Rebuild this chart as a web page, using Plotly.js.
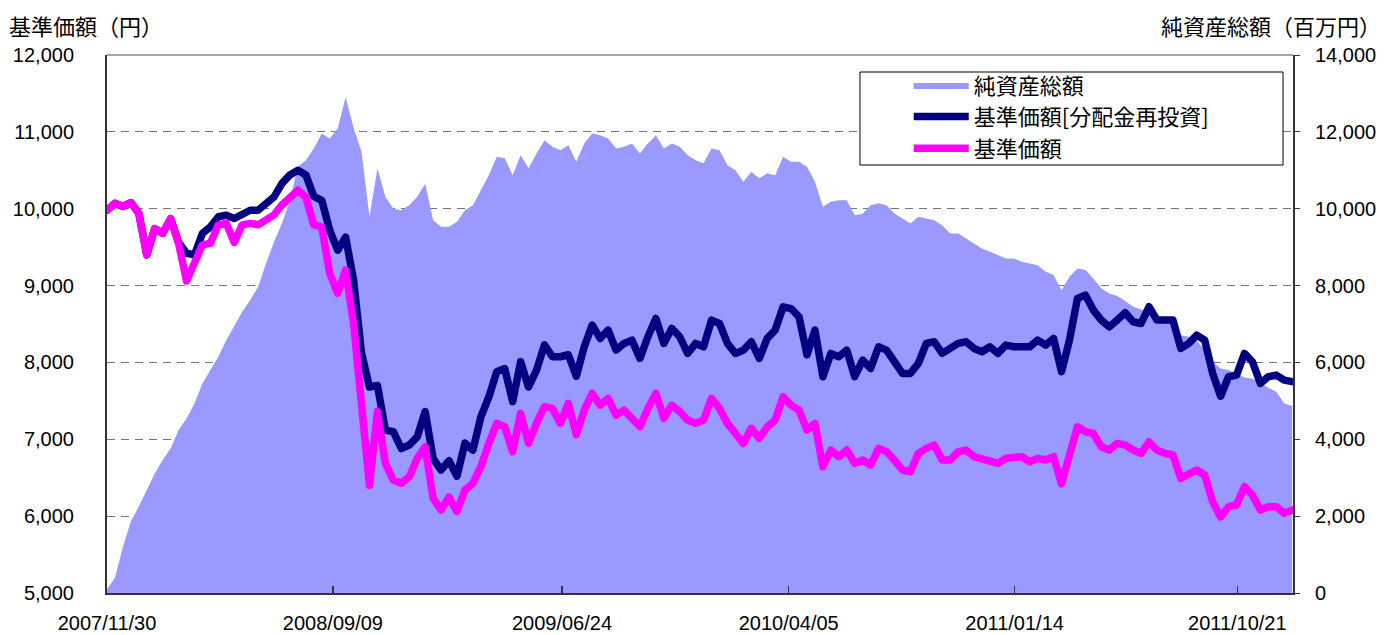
<!DOCTYPE html>
<html>
<head>
<meta charset="utf-8">
<script src="https://cdn.plot.ly/plotly-3.0.1.min.js"></script>
<style>
html,body{margin:0;padding:0;background:#fff;}
#chart{width:1395px;height:635px;}
#chart .scatterlayer .js-line{stroke-linejoin:round !important;stroke-linecap:round !important;}
</style>
</head>
<body>
<div id="chart"></div>
<script>
// Dates (sampled every 10 days)
const dates = [
'2007-11-30','2007-12-10','2007-12-20','2007-12-30','2008-01-09','2008-01-19','2008-01-29','2008-02-08','2008-02-18','2008-02-28',
'2008-03-09','2008-03-19','2008-03-29','2008-04-08','2008-04-18','2008-04-28','2008-05-08','2008-05-18','2008-05-28','2008-06-07',
'2008-06-17','2008-06-27','2008-07-07','2008-07-17','2008-07-27','2008-08-06','2008-08-16','2008-08-26','2008-09-05','2008-09-15',
'2008-09-25','2008-10-05','2008-10-15','2008-10-25','2008-11-04','2008-11-14','2008-11-24','2008-12-04','2008-12-14','2008-12-24',
'2009-01-03','2009-01-13','2009-01-23','2009-02-02','2009-02-12','2009-02-22','2009-03-04','2009-03-14','2009-03-24','2009-04-03',
'2009-04-13','2009-04-23','2009-05-03','2009-05-13','2009-05-23','2009-06-02','2009-06-12','2009-06-22','2009-07-02','2009-07-12',
'2009-07-22','2009-08-01','2009-08-11','2009-08-21','2009-08-31','2009-09-10','2009-09-20','2009-09-30','2009-10-10','2009-10-20',
'2009-10-30','2009-11-09','2009-11-19','2009-11-29','2009-12-09','2009-12-19','2009-12-29','2010-01-08','2010-01-18','2010-01-28',
'2010-02-07','2010-02-17','2010-02-27','2010-03-09','2010-03-19','2010-03-29','2010-04-08','2010-04-18','2010-04-28','2010-05-08',
'2010-05-18','2010-05-28','2010-06-07','2010-06-17','2010-06-27','2010-07-07','2010-07-17','2010-07-27','2010-08-06','2010-08-16',
'2010-08-26','2010-09-05','2010-09-15','2010-09-25','2010-10-05','2010-10-15','2010-10-25','2010-11-04','2010-11-14','2010-11-24',
'2010-12-04','2010-12-14','2010-12-24','2011-01-03','2011-01-13','2011-01-23','2011-02-02','2011-02-12','2011-02-22','2011-03-04',
'2011-03-14','2011-03-24','2011-04-03','2011-04-13','2011-04-23','2011-05-03','2011-05-13','2011-05-23','2011-06-02','2011-06-12',
'2011-06-22','2011-07-02','2011-07-12','2011-07-22','2011-08-01','2011-08-11','2011-08-21','2011-08-31','2011-09-10','2011-09-20',
'2011-09-30','2011-10-10','2011-10-20','2011-10-30','2011-11-09','2011-11-19','2011-11-29','2011-12-09','2011-12-19','2011-12-29'
];

// 純資産総額 (百万円)
const netAssets = [
100,400,1200,1860,2250,2680,3110,3460,3760,4240,
4540,4930,5450,5800,6150,6580,6970,7320,7620,7970,
8580,9140,9620,10220,11090,11260,11570,11960,11830,12090,
12900,12100,11480,9790,11050,10310,10000,9960,10090,10310,
10650,9700,9530,9530,9660,9960,10090,10480,10870,11350,
11310,10870,11390,11050,11440,11780,11610,11520,11650,11220,
11700,11960,11910,11830,11570,11610,11700,11440,11700,11910,
11570,11700,11610,11390,11260,11180,11570,11520,11130,11000,
10700,10960,10790,10920,10870,11350,11220,11220,11090,10700,
10050,10180,10220,10220,9830,9870,10090,10140,10090,9876,
9746,9616,9790,9746,9700,9570,9356,9356,9226,9096,
8966,8880,8790,8706,8706,8620,8575,8532,8358,8272,
7880,8228,8445,8402,8185,7925,7795,7726,7596,7450,
7380,7275,7188,7100,6970,6710,6668,6580,6320,6020,
5845,5800,5715,5610,5575,5470,5340,5237,4930,4865
];

// 基準価額[分配金再投資] (円)
const navReinvested = [
9980,10070,10030,10080,9940,9400,9740,9680,9870,9560,
9420,9400,9680,9765,9895,9915,9873,9915,9980,9980,
10070,10155,10330,10440,10500,10440,10160,10110,9720,9460,
9630,9070,8120,7680,7700,7120,7100,6880,6925,7030,
7360,6750,6600,6720,6520,6950,6860,7290,7550,7880,
7920,7490,8010,7680,7900,8230,8074,8074,8100,7820,
8204,8486,8312,8420,8160,8247,8290,8052,8334,8573,
8247,8442,8334,8117,8247,8204,8551,8507,8247,8117,
8160,8269,8052,8312,8421,8724,8700,8594,8100,8420,
7814,8117,8074,8160,7814,8030,7922,8204,8160,7987,
7857,7857,7987,8247,8269,8117,8182,8247,8269,8182,
8139,8204,8117,8226,8204,8204,8204,8290,8226,8312,
7880,8290,8833,8876,8681,8551,8464,8551,8646,8529,
8507,8724,8551,8551,8551,8182,8247,8356,8290,7857,
7560,7814,7835,8117,8009,7727,7814,7835,7770,7750
];

// 基準価額 (円)
const nav = [
9980,10070,10030,10080,9940,9400,9740,9680,9870,9550,
9060,9290,9530,9550,9790,9810,9560,9790,9810,9790,
9850,9920,10050,10150,10240,10150,9790,9765,9158,8900,
9200,8507,7554,6400,7360,6687,6470,6427,6513,6750,
6900,6230,6080,6250,6060,6340,6427,6643,6947,7207,
7163,6838,7337,6947,7207,7424,7402,7207,7467,7060,
7380,7597,7445,7532,7315,7380,7272,7163,7402,7597,
7272,7445,7359,7250,7207,7250,7532,7402,7207,7077,
6947,7142,7012,7163,7250,7554,7445,7380,7120,7207,
6643,6860,6773,6860,6687,6730,6665,6882,6838,6730,
6600,6578,6817,6882,6925,6730,6730,6838,6860,6773,
6752,6730,6687,6752,6773,6773,6708,6752,6730,6773,
6420,6773,7163,7098,7077,6903,6860,6947,6925,6860,
6817,6968,6860,6817,6795,6492,6557,6600,6535,6188,
5990,6123,6145,6383,6275,6080,6123,6123,6036,6080
];

// Axis ticks
const xTickVals = ['2007-11-30','2008-09-09','2009-06-24','2010-04-05','2011-01-14','2011-10-21'];
const xTickText = ['2007/11/30','2008/09/09','2009/06/24','2010/04/05','2011/01/14','2011/10/21'];
const seriesNames = ['純資産総額','基準価額[分配金再投資]','基準価額'];
const leftTitle = '基準価額（円）';
const rightTitle = '純資産総額（百万円）';

const tickFont = {family:'Liberation Sans, Arial, sans-serif', size:20, color:'#000'};
const jpFont = 'Noto Sans CJK JP, sans-serif';

const traces = [
  {x:dates, y:netAssets, name:seriesNames[0], type:'scatter', mode:'lines', fill:'tozeroy',
   fillcolor:'#9999FF', line:{color:'#9999FF', width:0}, xaxis:'x', yaxis:'y'},
  {x:dates, y:navReinvested, name:seriesNames[1], type:'scatter', mode:'lines',
   line:{color:'#000080', width:7.5}, xaxis:'x', yaxis:'y2'},
  {x:dates, y:nav, name:seriesNames[2], type:'scatter', mode:'lines',
   line:{color:'#FF00FF', width:7.5}, xaxis:'x', yaxis:'y2'}
];

const layout = {
  width:1395, height:635,
  margin:{l:107, r:102, t:55, b:42, pad:0},
  paper_bgcolor:'#fff', plot_bgcolor:'#fff',
  showlegend:true, hovermode:false,
  xaxis:{type:'date', range:['2007-11-30','2011-12-30'], tickmode:'array', tickvals:xTickVals, ticktext:xTickText,
    ticks:'inside', ticklen:7, tickwidth:1.5, tickcolor:'#333', showline:true, linecolor:'#333', linewidth:2,
    showgrid:false, zeroline:false, tickfont:tickFont, ticklabelstandoff:11},
  yaxis:{range:[0,14000], dtick:2000, tick0:0, side:'right', tickformat:',d', showgrid:true, gridcolor:'#777',
    griddash:'8px,6px', gridwidth:1, showline:true, linecolor:'#333', linewidth:2, ticks:'outside', ticklen:5,
    tickcolor:'#333', zeroline:false, tickfont:tickFont, ticklabelstandoff:11},
  yaxis2:{range:[5000,12000], dtick:1000, tick0:5000, overlaying:'y', side:'left', tickformat:',d', showgrid:false,
    showline:true, linecolor:'#333', linewidth:2, ticks:'', zeroline:false, tickfont:tickFont, ticklabelstandoff:27},
  legend:{x:0.676, y:0.983, xanchor:'left', yanchor:'top', bgcolor:'rgba(0,0,0,0)', borderwidth:0,
    font:{family:jpFont, size:22, color:'#000'}, itemwidth:55, traceorder:'normal'},
  annotations:[
    {text:leftTitle, xref:'paper', yref:'paper', x:-0.084, y:1.056, xanchor:'left', yanchor:'middle', showarrow:false,
     font:{family:jpFont, size:22, color:'#000'}},
    {text:rightTitle, xref:'paper', yref:'paper', x:1.076, y:1.056, xanchor:'right', yanchor:'middle', showarrow:false,
     font:{family:jpFont, size:22, color:'#000'}}
  ],
  shapes:[
    {type:'line', xref:'paper', yref:'paper', x0:0, x1:1, y0:1, y1:1, line:{color:'#888', width:1.5}},
    {type:'rect', xref:'paper', yref:'paper', x0:0.6349, x1:0.9916, y0:0.7955, y1:0.9684,
     fillcolor:'#fff', layer:'above', line:{color:'#000', width:1}}
  ]
};

Plotly.newPlot('chart', traces, layout, {displayModeBar:false, staticPlot:true});
</script>
</body>
</html>
